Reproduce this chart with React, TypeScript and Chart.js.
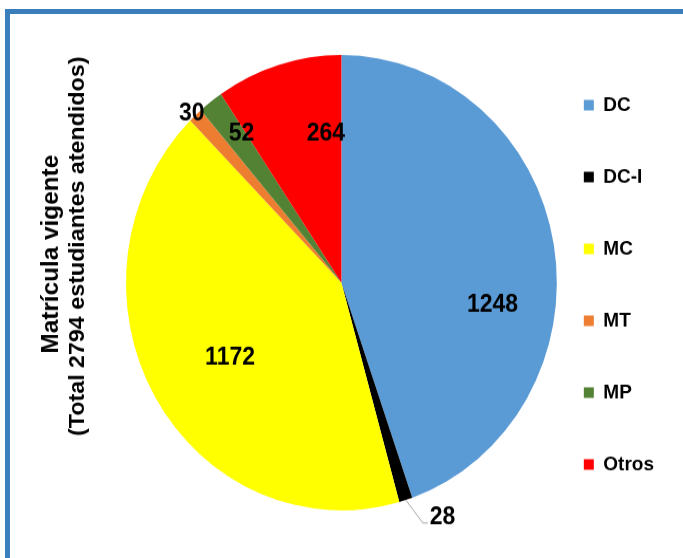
import React, { useEffect, useRef } from 'react';
import { Chart, registerables } from 'chart.js';

Chart.register(...registerables);

const categories = ['DC', 'DC-I', 'MC', 'MT', 'MP', 'Otros'];
const enrollment = [1248, 28, 1172, 30, 52, 264];
const sliceColors = ['#5B9BD5', '#000000', '#FFFF00', '#ED7D31', '#548235', '#FF0000'];
const titleLines = ['Matrícula vigente', '(Total 2794 estudiantes atendidos)'];

// label placement: t = fraction along the slice's angle, f = fraction of the radius
const labelPlacement = [
  { t: 0.609, f: 0.708, leader: false },
  { t: -0.14, f: 1.121, leader: true },
  { t: 0.483, f: 0.614, leader: false },
  { t: 0.383, f: 1.016, leader: false },
  { t: 0.794, f: 0.8, leader: false },
  { t: 0.815, f: 0.657, leader: false },
];

const CW = 683;
const CH = 528;
const SY = 558 / 528;
const FONT = "'Liberation Sans', Arial, Helvetica, sans-serif";

const axisTitlePlugin = {
  id: 'axisTitle',
  afterDraw(chart: any) {
    const ctx = chart.ctx;
    ctx.save();
    ctx.fillStyle = '#000000';
    ctx.textAlign = 'center';
    ctx.textBaseline = 'middle';
    const pos = [
      { x: 52, y: 240.5, size: 23 },
      { x: 78, y: 233, size: 22 },
    ];
    titleLines.forEach((line, i) => {
      ctx.save();
      ctx.font = `bold ${pos[i].size}px ${FONT}`;
      ctx.translate(pos[i].x, pos[i].y);
      ctx.rotate(-Math.PI / 2);
      ctx.fillText(line, 0, 0);
      ctx.restore();
    });
    ctx.restore();
  },
};

const sliceLabelPlugin = {
  id: 'sliceLabels',
  afterDatasetsDraw(chart: any) {
    const ctx = chart.ctx;
    const meta = chart.getDatasetMeta(0);
    ctx.save();
    ctx.font = `bold 23px ${FONT}`;
    ctx.fillStyle = '#000000';
    meta.data.forEach((arc: any, i: number) => {
      const p = arc.getProps(['x', 'y', 'startAngle', 'endAngle', 'outerRadius'], true);
      const pl = labelPlacement[i];
      const text = String(enrollment[i]);
      const a = p.startAngle + pl.t * (p.endAngle - p.startAngle);
      const lx = p.x + Math.cos(a) * p.outerRadius * pl.f;
      const ly = p.y + Math.sin(a) * p.outerRadius * pl.f;
      if (pl.leader) {
        const mid = (p.startAngle + p.endAngle) / 2;
        const sx = p.x + Math.cos(mid) * p.outerRadius;
        const sy = p.y + Math.sin(mid) * p.outerRadius;
        ctx.strokeStyle = '#A6A6A6';
        ctx.lineWidth = 1;
        ctx.beginPath();
        ctx.moveTo(sx, sy);
        ctx.lineTo(lx, ly);
        ctx.lineTo(lx + 5, ly);
        ctx.stroke();
        ctx.textAlign = 'left';
        ctx.textBaseline = 'alphabetic';
        ctx.fillText(text, lx + 7, ly + 1);
      } else {
        ctx.textAlign = 'center';
        ctx.textBaseline = 'middle';
        ctx.fillText(text, lx, ly);
      }
    });
    ctx.restore();
  },
};

export default function App() {
  const canvasRef = useRef<HTMLCanvasElement | null>(null);

  useEffect(() => {
    if (!canvasRef.current) return;
    const chart = new Chart(canvasRef.current, {
      type: 'pie',
      data: {
        labels: categories,
        datasets: [
          {
            data: enrollment,
            backgroundColor: sliceColors,
            borderWidth: 0,
          },
        ],
      },
      options: {
        responsive: false,
        maintainAspectRatio: false,
        devicePixelRatio: 1,
        animation: false,
        events: [],
        layout: { padding: { left: 126, right: 19, top: 7, bottom: 0 } },
        plugins: {
          tooltip: { enabled: false },
          legend: {
            display: true,
            position: 'right',
            align: 'center',
            title: { display: true, text: '', padding: 7, font: { size: 10, lineHeight: 1.2 } },
            labels: {
              boxWidth: 10,
              boxHeight: 10,
              padding: 27,
              color: '#000000',
              font: { family: FONT, size: 19, weight: 'bold', lineHeight: '41px' },
              generateLabels: (c: any) =>
                (Chart as any).overrides.doughnut.plugins.legend.labels
                  .generateLabels(c)
                  .map((l: any) => ({ ...l, text: [l.text], lineWidth: 0, strokeStyle: l.fillStyle })),
            },
          },
        },
      } as any,
      plugins: [axisTitlePlugin, sliceLabelPlugin],
    });
    return () => chart.destroy();
  }, []);

  return (
    <div
      style={{
        position: 'absolute',
        left: 0,
        top: 0,
        width: 683,
        height: 558,
        overflow: 'hidden',
        background: '#ffffff',
      }}
    >
      <div
        style={{
          position: 'absolute',
          left: 5,
          top: 9,
          width: 800,
          height: 700,
          borderLeft: '5px solid #3A7EBB',
          borderTop: '5px solid #3A7EBB',
        }}
      />
      <div
        style={{
          position: 'absolute',
          left: 0,
          top: 0,
          width: CW,
          height: CH,
          transform: `scaleY(${SY})`,
          transformOrigin: '0 0',
        }}
      >
        <canvas
          ref={canvasRef}
          width={CW}
          height={CH}
          style={{ display: 'block', width: CW, height: CH }}
        />
      </div>
    </div>
  );
}
